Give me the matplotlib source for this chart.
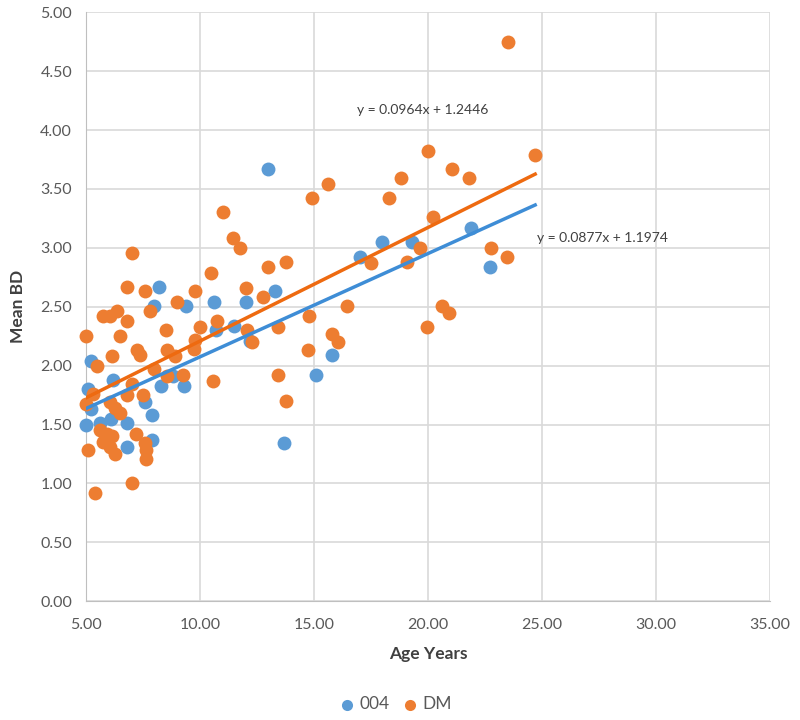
import matplotlib
matplotlib.use("Agg")
import matplotlib.pyplot as plt
import numpy as np

plt.rcParams['font.family'] = ['Lato', 'DejaVu Sans']

# 004 series
x_004 = [5.0, 5.1, 5.2, 5.2, 5.6, 6.1, 6.2, 6.8, 6.8, 7.6, 7.9, 7.9, 8.2, 8.0, 8.3, 8.8,
         9.3, 9.4, 10.6, 10.7, 11.5, 12.0, 12.2, 13.0, 13.3, 13.7, 15.1, 15.8, 17.0,
         18.0, 19.3, 21.9, 22.7]
y_004 = [1.50, 1.80, 2.04, 1.63, 1.51, 1.55, 1.88, 1.51, 1.31, 1.69, 1.58, 1.37, 2.67, 2.51,
         1.83, 1.91, 1.83, 2.51, 2.54, 2.30, 2.34, 2.54, 2.21, 3.67, 2.63, 1.34, 1.92, 2.09,
         2.92, 3.05, 3.05, 3.17, 2.84]

# DM series
x_dm = [5.0, 5.0, 5.1, 5.3, 5.4, 5.5, 5.6, 5.75, 5.75, 5.9, 6.05, 6.05, 6.05, 6.15, 6.15,
        6.25, 6.25, 6.35, 6.5, 6.5, 6.8, 6.8, 6.8, 7.0, 7.0, 7.0, 7.2, 7.25, 7.35, 7.5,
        7.6, 7.6, 7.65, 7.65, 7.8, 8.0, 8.5, 8.55, 8.55, 8.9, 9.0, 9.25, 9.75, 9.8, 9.8,
        10.0, 10.5, 10.55, 10.75, 11.0, 11.45, 11.75, 12.0, 12.05, 12.3, 12.75, 13.0, 13.4,
        13.4, 13.75, 13.75, 14.75, 14.8, 14.9, 15.6, 15.8, 16.05, 16.45, 17.5, 18.3, 18.8,
        19.1, 19.65, 19.95, 20.0, 20.2, 20.6, 20.9, 21.05, 21.8, 22.75, 23.45, 23.5, 24.7]
y_dm = [2.25, 1.67, 1.28, 1.76, 0.92, 2.00, 1.45, 2.42, 1.35, 1.42, 2.42, 1.69, 1.31, 2.08, 1.40,
        1.64, 1.25, 2.46, 2.25, 1.60, 2.67, 2.38, 1.75, 2.96, 1.84, 1.00, 1.42, 2.13, 2.09, 1.75,
        2.63, 1.34, 1.28, 1.21, 2.46, 1.97, 2.30, 2.13, 1.91, 2.08, 2.54, 1.92, 2.14, 2.63, 2.22,
        2.33, 2.79, 1.87, 2.38, 3.30, 3.08, 3.00, 2.66, 2.30, 2.20, 2.58, 2.84, 2.33,
        1.92, 2.88, 1.70, 2.13, 2.42, 3.42, 3.54, 2.27, 2.20, 2.51, 2.87, 3.42, 3.59,
        2.88, 3.00, 2.33, 3.82, 3.26, 2.51, 2.45, 3.67, 3.59, 3.00, 2.92, 4.75, 3.79]

# trendline coefficients (from chart labels)
slope_004, icpt_004 = 0.0877, 1.1974
slope_dm, icpt_dm = 0.0964, 1.2446
trend_x = [5.0, 24.7]

x_ticks = [5, 10, 15, 20, 25, 30, 35]
y_ticks = [0, 0.5, 1, 1.5, 2, 2.5, 3, 3.5, 4, 4.5, 5]

c_blue = '#5B9BD5'
c_orange = '#ED7D31'
c_blue_line = '#3E8DD6'
c_orange_line = '#EE6A10'

fig = plt.figure(figsize=(8, 7.2), dpi=100)
ax = fig.add_axes([0.1075, 0.165, 0.855, 0.818])

ax.scatter(x_004, y_004, s=100, color=c_blue, label='004', zorder=3, linewidths=0, clip_on=False)
ax.scatter(x_dm, y_dm, s=100, color=c_orange, label='DM', zorder=4, linewidths=0, clip_on=False)

tx = np.array(trend_x)
ax.plot(tx, slope_004 * tx + icpt_004, color=c_blue_line, lw=2.5, zorder=5)
ax.plot(tx, slope_dm * tx + icpt_dm, color=c_orange_line, lw=2.5, zorder=5)

ax.text(16.9, 4.17, 'y = 0.0964x + 1.2446', fontsize=10, color='#404040', va='center', ha='left')
ax.text(24.8, 3.08, 'y = 0.0877x + 1.1974', fontsize=10, color='#404040', va='center', ha='left')

ax.set_xlim(5, 35)
ax.set_ylim(0, 5)
ax.set_xticks(x_ticks)
ax.set_yticks(y_ticks)
ax.set_xticklabels([f'{v:.2f}' for v in x_ticks])
ax.set_yticklabels([f'{v:.2f}' for v in y_ticks])
ax.tick_params(length=0, labelsize=11.5, colors='#595959')
ax.tick_params(axis='x', pad=12)
ax.tick_params(axis='y', pad=10)
ax.grid(True, color='#D9D9D9', lw=1.2, zorder=0)
ax.set_axisbelow(True)
for s in ax.spines.values():
    s.set_visible(False)
ax.spines['bottom'].set_visible(True)
ax.spines['bottom'].set_color('#BFBFBF')
ax.spines['left'].set_visible(True)
ax.spines['left'].set_color('#BFBFBF')

ax.set_xlabel('Age Years', fontsize=12.5, fontweight='bold', color='#404040', labelpad=10)
ax.set_ylabel('Mean BD', fontsize=12.5, fontweight='bold', color='#404040', labelpad=10)

fig.legend(handles=ax.collections[:2], labels=['004', 'DM'], loc='center',
           bbox_to_anchor=(0.495, 0.022), ncol=2, frameon=False, fontsize=12.5,
           handlelength=0.8, handletextpad=0.3, columnspacing=0.8, markerscale=0.8,
           labelcolor='#595959')

fig.savefig('out.png', dpi=100)
